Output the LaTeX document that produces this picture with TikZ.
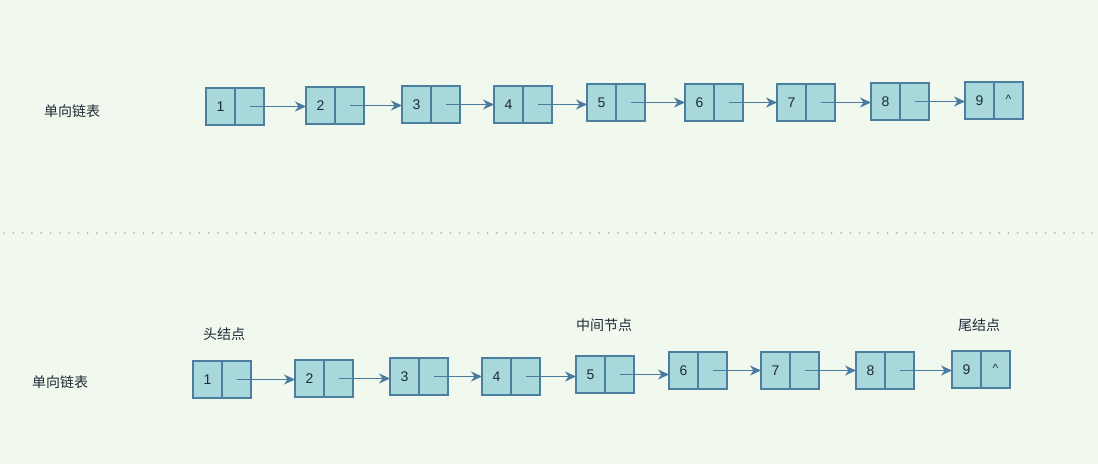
\documentclass[tikz,border=0pt]{standalone}
\usepackage{fontspec}
\setmainfont{Liberation Sans}
\newfontfamily\cjk{Noto Sans CJK SC}
\usetikzlibrary{arrows.meta,calc}
\tikzset{>={Stealth[length=11pt,width=10pt,inset=3.5pt]}}
\definecolor{bggreen}{RGB}{241,248,237}
\definecolor{cellblue}{RGB}{168,216,220}
\definecolor{cellline}{RGB}{76,126,158}
\definecolor{linkblue}{RGB}{74,122,160}
\definecolor{dotgray}{RGB}{176,186,176}
\definecolor{textdark}{RGB}{30,42,54}
\tikzset{
  cell/.style={draw=cellline, fill=cellblue, line width=1.5pt, minimum width=29pt, minimum height=37pt, inner sep=0pt, outer sep=0pt, anchor=north west, text=textdark, font=\fontsize{14}{16}\selectfont},
  link/.style={->, draw=linkblue, line width=1.5pt},
  label/.style={text=textdark, font=\cjk\fontsize{14}{16}\selectfont, inner sep=0pt}
}

\begin{document}
\begin{tikzpicture}[x=1pt, y=-1pt]
    \fill [bggreen] (0,0) rectangle (1098,464);
    \useasboundingbox (0,0) rectangle (1098,464);

    % upper list
    \node at (72,111) [label](tname){单向链表};
    \foreach \n/\x/\y in {1/206/88, 2/306/87, 3/402/86, 4/494/86, 5/587/84, 6/685/84, 7/777/84, 8/871/83, 9/965/82}{
      \node at (\x,\y) [cell](t\n){\n};
      \node at (t\n.north east) [cell](tp\n){};
    }
    \node at (tp9.center) [text=textdark, font=\fontsize{12}{14}\selectfont, yshift=1pt]{\textasciicircum};
    \foreach \n in {1,...,8}{
      \pgfmathtruncatemacro\m{\n+1}
      \draw [link] (tp\n.center) -- (tp\n.center -| t\m.west);
    }

    % separator
    \draw [dotgray, line width=2pt, line cap=round, dash pattern=on 0pt off 9.3pt] (4,233) -- (1098,233);

    % lower list
    \node at (60,382) [label](bname){单向链表};
    \foreach \n/\x/\y in {1/193/361, 2/295/360, 3/390/358, 4/482/358, 5/576/356, 6/669/352, 7/761/352, 8/856/352, 9/952/351}{
      \node at (\x,\y) [cell](b\n){\n};
      \node at (b\n.north east) [cell](bp\n){};
    }
    \node at (bp9.center) [text=textdark, font=\fontsize{12}{14}\selectfont, yshift=1pt]{\textasciicircum};
    \foreach \n in {1,...,8}{
      \pgfmathtruncatemacro\m{\n+1}
      \draw [link] (bp\n.center) -- (bp\n.center -| b\m.west);
    }
    \node at (224,334) [label](head){头结点};
    \node at (604,325) [label](mid){中间节点};
    \node at (979,325) [label](tail){尾结点};
  \end{tikzpicture}
\end{document}
